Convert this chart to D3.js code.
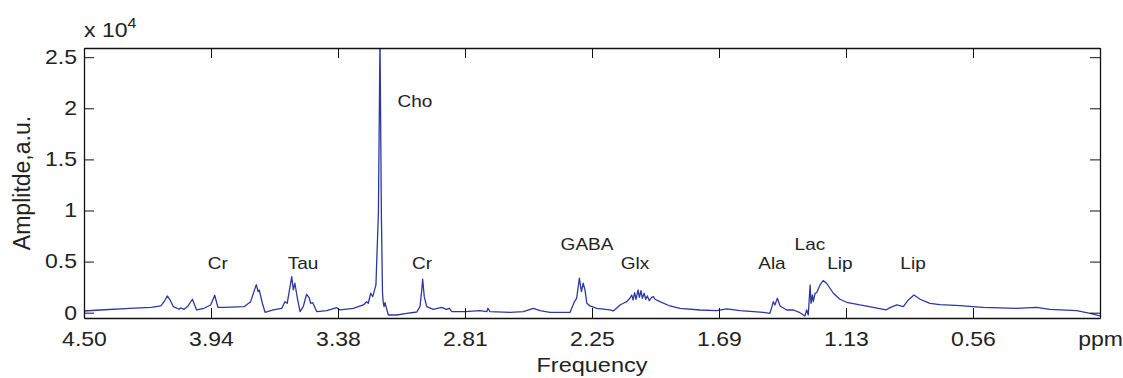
<!DOCTYPE html>
<html><head><meta charset="utf-8">
<script src="https://cdn.jsdelivr.net/npm/d3@7"></script>
<style>
body{margin:0;background:#fff;}
svg{display:block;font-family:"Liberation Sans",Arial,sans-serif;}
</style></head>
<body><svg id="chart" width="1123" height="378"></svg>
<script>
// spectrum: chemical shift (ppm) and amplitude (a.u.)
const ppm = [4.500,4.429,4.296,4.203,4.160,4.146,4.131,4.119,4.104,4.079,4.072,4.057,4.039,4.020,4.001,3.969,3.939,3.921,3.907,3.880,
3.791,3.762,3.737,3.729,3.724,3.710,3.698,3.662,3.624,3.610,3.600,3.580,3.573,3.566,3.555,3.543,3.529,3.514,3.503,3.496,
3.487,3.469,3.425,3.381,3.366,3.307,3.263,3.248,3.241,3.230,3.221,3.207,3.196,3.189,3.183,3.178,3.175,3.171,3.167,3.152,
3.115,3.071,3.026,3.012,3.004,3.000,2.993,2.982,2.953,2.916,2.894,2.882,2.871,2.812,2.746,2.716,2.711,2.702,2.613,2.554,
2.510,2.480,2.436,2.347,2.337,2.328,2.318,2.306,2.297,2.289,2.281,2.273,2.259,2.229,2.170,2.156,2.141,2.126,2.111,2.096,
2.082,2.074,2.068,2.061,2.055,2.046,2.040,2.033,2.027,2.019,2.012,2.005,1.996,1.986,1.978,1.971,1.949,1.905,1.860,1.772,
1.698,1.653,1.594,1.491,1.462,1.453,1.447,1.440,1.429,1.417,1.388,1.358,1.329,1.307,1.299,1.292,1.284,1.280,1.274,1.270,
1.262,1.255,1.240,1.226,1.211,1.181,1.152,1.122,1.063,1.004,0.948,0.930,0.900,0.871,0.849,0.824,0.797,0.753,0.709,0.620,
0.517,0.369,0.281,0.222,0.103,0.044,0.000];
const amplitude = [167,265,412,529,657,1049,1637,1245,588,333,461,333,657,1313,265,431,755,1705,529,529,
588,1078,2744,2058,2225,921,39,265,431,1078,921,3528,2225,2881,1411,98,588,1803,1470,921,
980,98,196,490,265,431,755,1078,921,1901,1568,2715,9800,27000,9800,2000,1078,588,980,-225,
-225,-59,69,588,2225,3273,1568,588,333,529,333,431,98,98,196,98,431,98,39,98,
431,196,39,39,588,1078,1411,3371,2058,2881,2225,921,657,431,265,167,431,755,921,1078,
1411,1735,1245,1960,1313,2225,1509,2156,1411,1901,1313,1637,1176,1509,1568,1313,1078,657,431,265,
196,363,196,39,-59,588,1078,755,1411,657,265,265,0,-323,265,-225,2715,921,1735,1078,
1901,1960,2715,3136,2881,1901,1313,1019,755,529,265,490,755,588,1245,1735,1313,921,784,686,
529,431,529,333,196,-59,-323];

const xTickValues = [4.5,3.9375,3.375,2.8125,2.25,1.6875,1.125,0.5625,0];
const xTickLabels = ["4.50","3.94","3.38","2.81","2.25","1.69","1.13","0.56","ppm"];
const yTickValues = [0,5000,10000,15000,20000,25000];
const yTickLabels = ["0","0.5","1","1.5","2","2.5"];

const peakNames = ["Cr","Tau","Cho","Cr","GABA","Glx","Ala","Lac","Lip","Lip"];
const peakPpm   = [3.907,3.530,3.034,3.003,2.272,2.060,1.453,1.285,1.152,0.828];
const peakLevel = [4300,4300,20100,4300,6150,4300,4300,6150,4300,4300];

const W=1123,H=378;
const m={left:84,right:23,top:48,bottom:60};
const SX=1.15, SXA=1.12;
const svg=d3.select("#chart");
const x=d3.scaleLinear().domain([4.5,0]).range([m.left,W-m.right]);
const y=d3.scaleLinear().domain([-520,25900]).range([H-m.bottom,m.top]);

svg.append("defs").append("clipPath").attr("id","clip").append("rect")
  .attr("x",m.left).attr("y",m.top).attr("width",W-m.left-m.right).attr("height",H-m.top-m.bottom);

const pts=ppm.map((p,i)=>[p,amplitude[i]]);
svg.append("path").datum(pts).attr("clip-path","url(#clip)")
  .attr("fill","none").attr("stroke","#2b38a2").attr("stroke-width",1.3).attr("stroke-linejoin","round")
  .attr("d",d3.line().x(d=>x(d[0])).y(d=>y(d[1])));

// axes
const xb=svg.append("g").attr("transform",`translate(0,${H-m.bottom})`)
  .call(d3.axisBottom(x).tickValues(xTickValues).tickFormat((d,i)=>xTickLabels[i]).tickSizeInner(-10).tickSizeOuter(0).tickPadding(14));
const xt=svg.append("g").attr("transform",`translate(0,${m.top})`)
  .call(d3.axisTop(x).tickValues(xTickValues).tickFormat("").tickSizeInner(-10).tickSizeOuter(0));
const yl=svg.append("g").attr("transform",`translate(${m.left},0)`)
  .call(d3.axisLeft(y).tickValues(yTickValues).tickFormat((d,i)=>yTickLabels[i]).tickSizeInner(-10).tickSizeOuter(0));
const yr=svg.append("g").attr("transform",`translate(${W-m.right},0)`)
  .call(d3.axisRight(y).tickValues(yTickValues).tickFormat("").tickSizeInner(-10).tickSizeOuter(0));
[xb,xt,yl,yr].forEach(g=>{
  g.selectAll("path.domain").attr("stroke","#111").attr("stroke-width",1.3);
  g.selectAll(".tick line").attr("stroke","#111").attr("stroke-width",1);
  g.selectAll("text").attr("font-size",20).attr("fill","#222").attr("font-family","Liberation Sans, Arial, sans-serif")
    .attr("transform",`scale(${SX},1)`);
});
yl.selectAll("text").attr("x",-7/SX);

// multiplier
const mult=svg.append("text").attr("transform",`translate(${m.left},37) scale(${SX},1)`).attr("font-size",20).attr("fill","#222");
mult.append("tspan").text("x 10");
mult.append("tspan").attr("dy",-9).attr("font-size",14).text("4");

// axis titles
svg.append("text").attr("transform",`translate(${(m.left+W-m.right)/2},372) scale(${SXA},1)`).attr("text-anchor","middle")
  .attr("font-size",21).attr("fill","#222").text("Frequency");
svg.append("text").attr("transform",`translate(30,183) rotate(-90)`).attr("text-anchor","middle")
  .attr("font-size",23).attr("fill","#222").text("Amplitde,a.u.");

// peak annotations
svg.append("g").selectAll("text").data(peakNames).join("text")
  .attr("transform",(d,i)=>`translate(${x(peakPpm[i])},${y(peakLevel[i])}) scale(${SXA},1)`)
  .attr("text-anchor","middle").attr("font-size",17).attr("fill","#222").text(d=>d);
</script></body></html>
